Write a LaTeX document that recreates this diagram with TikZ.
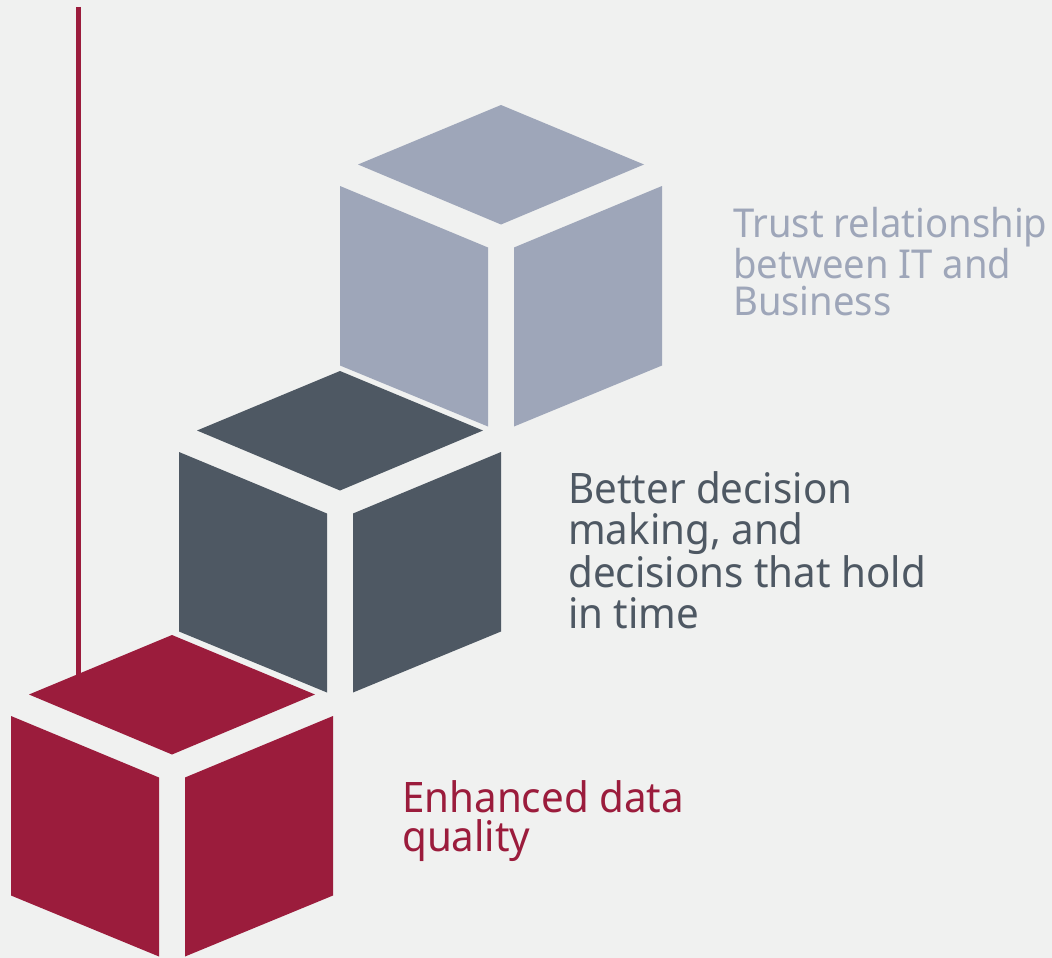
\documentclass[tikz,border=0pt]{standalone}
\usepackage{fontspec}
\setmainfont{Noto Sans}[FakeStretch=0.96]
\definecolor{bgc}{HTML}{F0F1F0}
\definecolor{cred}{HTML}{9B1C3C}
\definecolor{cslate}{HTML}{4E5863}
\definecolor{clav}{HTML}{9EA6B9}
\tikzset{
  cube/.pic={
    \fill[#1] (0,0) -- (-143,59.5) -- (0,119.5) -- (143,59.5) -- cycle;
    \fill[#1] (-161,81) -- (-13,142.5) -- (-13,321.5) -- (-161,260.5) -- cycle;
    \fill[#1] (161,81) -- (13,142.5) -- (13,321.5) -- (161,260.5) -- cycle;
  },
  label text/.style={anchor=base west, inner sep=0pt, align=left}
}
\begin{document}
\begin{tikzpicture}[x=1pt,y=-1pt]
\fill[bgc] (0,0) rectangle (1052,958);
\useasboundingbox (0,0) rectangle (1052,958);
\coordinate (lineTop) at (78.5,7);
\coordinate (lineBot) at (78.5,694);
\draw[cred, line width=5pt] (lineTop) -- (lineBot);
\pic at (501,105) {cube=clav};
\pic at (340,371) {cube=cslate};
\pic at (172,635) {cube=cred};
\node[label text, text=clav, font=\fontsize{39.8}{36.7}\selectfont] (t1) at (733,315) {Trust relationship\\between IT and\\Business};
\node[label text, text=cslate, font=\fontsize{42}{41.1}\selectfont] (t2) at (568,628.3) {Better decision\\making, and\\decisions that hold\\in time};
\node[label text, text=cred, font=\fontsize{42}{39}\selectfont] (t3) at (402,851.7) {Enhanced data\\quality};
\end{tikzpicture}
\end{document}
